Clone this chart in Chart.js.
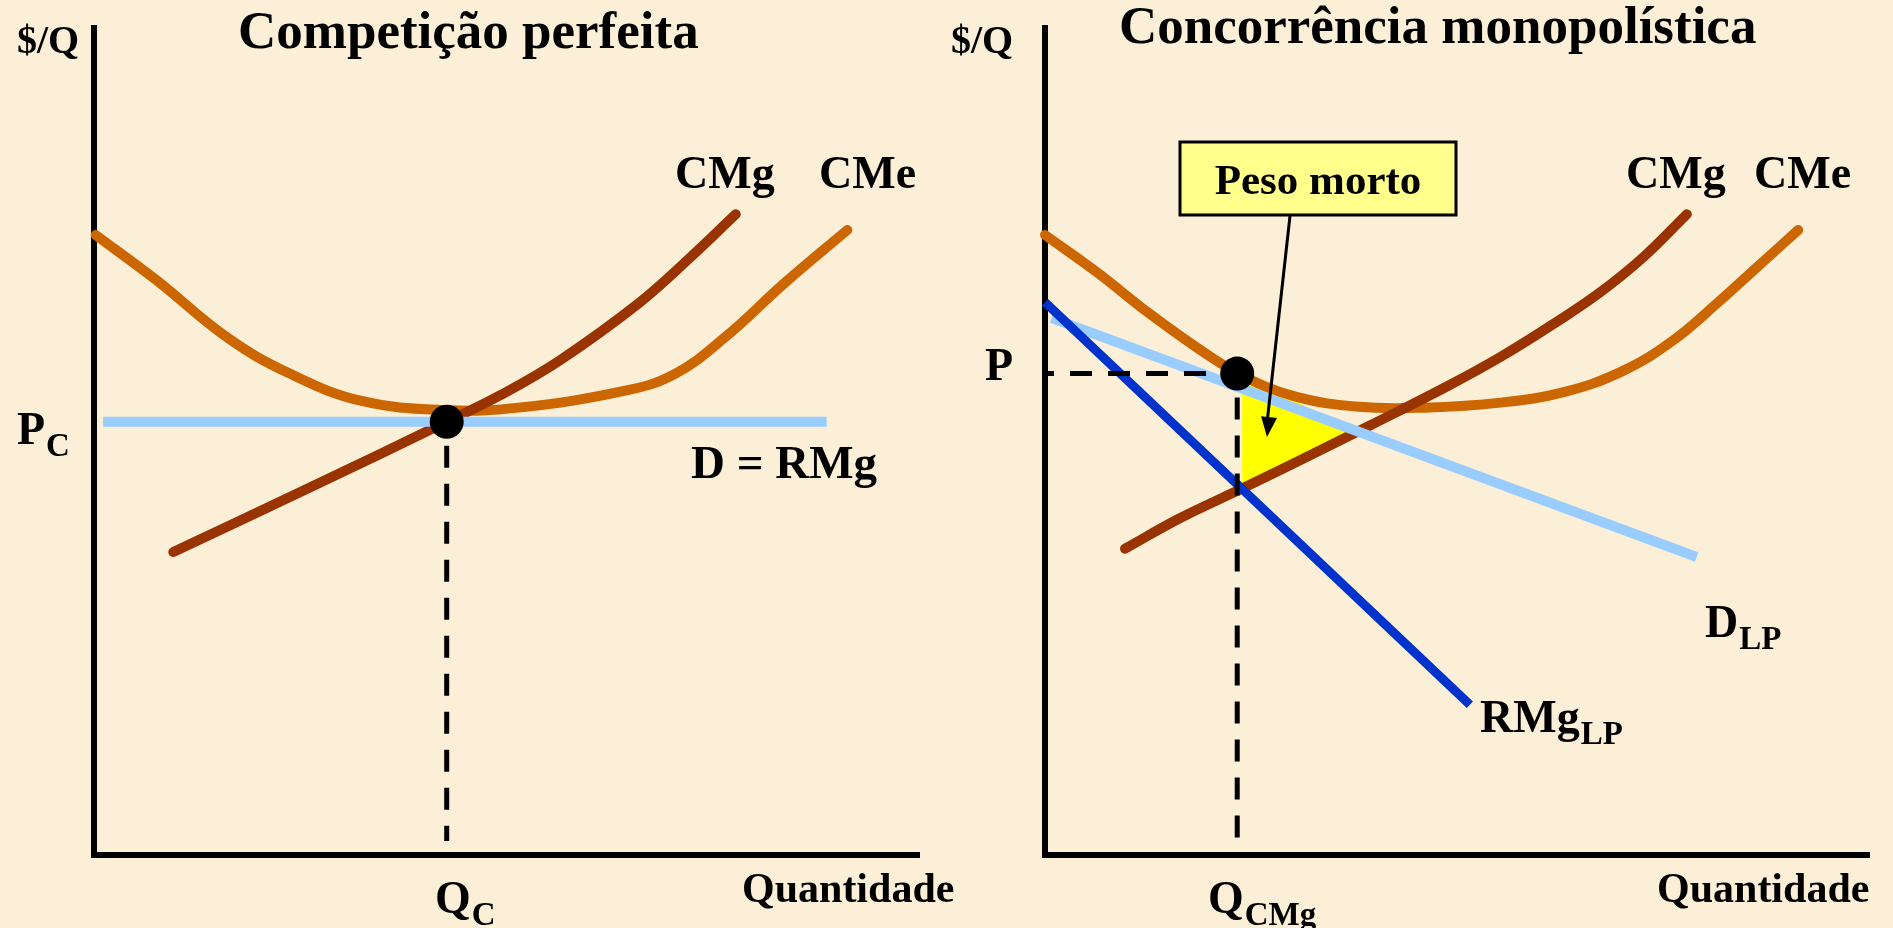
<!DOCTYPE html>
<html>
<head>
<meta charset="utf-8">
<script src="https://cdn.jsdelivr.net/npm/chart.js@4.4.0/dist/chart.umd.min.js"></script>
<style>
    html, body { margin: 0; padding: 0; }
    body {
        width: 1893px;
        height: 928px;
        position: relative;
        overflow: hidden;
        background-color: #fbefd8;
    }
    .panel { position: absolute; top: 0; height: 928px; }
    #leftWrap { left: 0; width: 1000px; }
    #rightWrap { left: 940px; width: 953px; }
</style>
</head>
<body>
<div class="panel" id="leftWrap"><canvas id="leftChart" width="1000" height="928"></canvas></div>
<div class="panel" id="rightWrap"><canvas id="rightChart" width="953" height="928"></canvas></div>
<script>
// Both panels: quantity on x (0-100), $/Q on y (0-100)

// Competição perfeita
const perfCMgX = [9.6, 26.2, 42.7, 49.2, 56.4, 66.1, 72.2, 77.7];
const perfCMgY = [36.5, 44.3, 52.2, 55.4, 59.6, 66.6, 72.0, 77.2];
const perfCMeX = [0.2, 7.5, 16.2, 23.7, 32.4, 42.7, 51.4, 64.6, 70.4, 76.3, 83.6, 91.2];
const perfCMeY = [74.7, 69.3, 62.3, 58.0, 54.7, 53.6, 53.9, 56.0, 58.0, 62.3, 68.9, 75.3];
const perfDemandX = [1.1, 88.7];
const perfPrice = 52.2;   // P_C
const perfQty = 42.7;     // Q_C

// Concorrência monopolística
const monoCMgX = [9.7, 16.4, 24.2, 32.2, 39.5, 49.0, 55.2, 61.2, 67.3, 72.5, 77.8];
const monoCMgY = [36.9, 40.6, 44.3, 48.2, 51.8, 56.6, 60.0, 63.7, 67.8, 72.0, 77.2];
const monoCMeX = [0, 6.3, 12.7, 19.2, 24.2, 30.5, 38.0, 46.0, 55.2, 63.0, 70.0, 76.0, 81.5, 86.5, 91.3];
const monoCMeY = [74.7, 70.2, 65.2, 60.6, 57.6, 55.2, 54.0, 53.9, 54.5, 55.8, 58.3, 61.9, 66.5, 71.0, 75.3];
const monoDemandX = [0.8, 79.0];
const monoDemandY = [64.7, 35.9];
const monoRMgX = [0, 51.5];
const monoRMgY = [66.6, 18.1];
const monoPrice = 58.0;   // P
const monoQty = 23.3;     // Q_CMg
const deadweightX = [23.9, 23.9, 37.2, 23.9];
const deadweightY = [58.2, 44.0, 51.0, 58.2];

const qtyFloor = 1.7;     // where the dashed guide stops

const FONT = '"Liberation Serif", "Times New Roman", serif';
const COLORS = {
    cmg: '#993300',
    cme: '#cc6600',
    demand: '#99ccff',
    rmg: '#0033cc',
    deadweight: '#ffff00',
    box: '#ffff8c'
};

function toPoints(xs, ys) {
    return xs.map((x, i) => ({ x: x, y: ys[i] }));
}

function curve(label, points, color, width, cap) {
    return {
        label: label,
        data: points,
        showLine: true,
        borderColor: color,
        borderWidth: width,
        borderCapStyle: cap || 'round',
        borderJoinStyle: 'round',
        pointRadius: 0,
        tension: 0.4,
        clip: false
    };
}

function dashed(label, points, phase) {
    return {
        label: label,
        data: points,
        showLine: true,
        borderColor: '#000',
        borderWidth: 5,
        borderDash: [22, 16],
        borderDashOffset: phase || 0,
        borderCapStyle: 'butt',
        pointRadius: 0,
        clip: false
    };
}

function dot(x, y) {
    return {
        label: 'equilibrio',
        data: [{ x: x, y: y }],
        pointRadius: 17,
        pointBackgroundColor: '#000',
        pointBorderWidth: 0,
        clip: false
    };
}

function drawLabel(ctx, item, offsetX) {
    ctx.font = `bold ${item.size || 46}px ${FONT}`;
    ctx.fillText(item.text, item.x - offsetX, item.y);
    if (item.sub) {
        const w = ctx.measureText(item.text).width;
        ctx.font = `bold 33px ${FONT}`;
        ctx.fillText(item.sub, item.x - offsetX + w + 1, item.y + 12);
    }
}

// Axes under the curves, labels and callouts above them
const decorPlugin = {
    id: 'decor',
    beforeDatasetsDraw(chart, args, opts) {
        const { ctx, chartArea } = chart;
        ctx.save();
        ctx.strokeStyle = '#000';
        ctx.lineWidth = 6;
        ctx.lineCap = 'butt';
        ctx.beginPath();
        ctx.moveTo(chartArea.left, chartArea.top);
        ctx.lineTo(chartArea.left, chartArea.bottom + 3);
        ctx.moveTo(chartArea.left - 3, chartArea.bottom);
        ctx.lineTo(chartArea.right, chartArea.bottom);
        ctx.stroke();
        ctx.restore();
    },
    afterDatasetsDraw(chart, args, opts) {
        const ctx = chart.ctx;
        const off = opts.offsetX;
        ctx.save();
        ctx.fillStyle = '#000';
        ctx.textAlign = 'left';
        ctx.textBaseline = 'alphabetic';
        opts.labels.forEach(item => drawLabel(ctx, item, off));

        if (opts.callout) {
            const c = opts.callout;
            // arrow from the box down into the triangle
            ctx.strokeStyle = '#000';
            ctx.lineWidth = 3;
            ctx.beginPath();
            ctx.moveTo(c.from[0] - off, c.from[1]);
            ctx.lineTo(c.to[0] - off, c.to[1] - 14);
            ctx.stroke();
            const ang = Math.atan2(c.to[1] - c.from[1], c.to[0] - c.from[0]);
            const tx = c.to[0] - off, ty = c.to[1];
            ctx.beginPath();
            ctx.moveTo(tx, ty);
            ctx.lineTo(tx - 20 * Math.cos(ang) + 8 * Math.sin(ang), ty - 20 * Math.sin(ang) - 8 * Math.cos(ang));
            ctx.lineTo(tx - 20 * Math.cos(ang) - 8 * Math.sin(ang), ty - 20 * Math.sin(ang) + 8 * Math.cos(ang));
            ctx.closePath();
            ctx.fill();

            // box
            ctx.fillStyle = COLORS.box;
            ctx.fillRect(c.box[0] - off, c.box[1], c.box[2], c.box[3]);
            ctx.strokeStyle = '#000';
            ctx.lineWidth = 3;
            ctx.strokeRect(c.box[0] - off, c.box[1], c.box[2], c.box[3]);
            ctx.fillStyle = '#000';
            ctx.textAlign = 'center';
            ctx.font = `bold 43px ${FONT}`;
            ctx.fillText(c.text, c.box[0] - off + c.box[2] / 2, c.box[1] + 52);
        }
        ctx.restore();
    }
};

function baseOptions(padding, decor) {
    return {
        responsive: false,
        animation: false,
        events: [],
        layout: { padding: padding },
        plugins: {
            legend: { display: false },
            tooltip: { enabled: false },
            title: { display: false },
            decor: decor
        },
        scales: {
            x: { type: 'linear', min: 0, max: 100, display: false },
            y: { type: 'linear', min: 0, max: 100, display: false }
        }
    };
}

function buildPerfect() {
    const ctx = document.getElementById('leftChart').getContext('2d');
    new Chart(ctx, {
        type: 'scatter',
        data: {
            datasets: [
                dot(perfQty, perfPrice),
                dashed('Q_C', [{ x: perfQty, y: perfPrice }, { x: perfQty, y: qtyFloor }], 14),
                curve('D = RMg', perfDemandX.map(x => ({ x: x, y: perfPrice })), COLORS.demand, 10, 'butt'),
                curve('CMg', toPoints(perfCMgX, perfCMgY), COLORS.cmg, 10),
                curve('CMe', toPoints(perfCMeX, perfCMeY), COLORS.cme, 10)
            ]
        },
        options: baseOptions({ left: 94, right: 80, top: 25, bottom: 73 }, {
            offsetX: 0,
            labels: [
                { text: '$/Q', x: 17, y: 53, size: 40 },
                { text: 'Competição perfeita', x: 238, y: 48, size: 53 },
                { text: 'CMg', x: 675, y: 188 },
                { text: 'CMe', x: 819, y: 188 },
                { text: 'D = RMg', x: 691, y: 478, size: 47 },
                { text: 'P', sub: 'C', x: 17, y: 444 },
                { text: 'Q', sub: 'C', x: 435, y: 913 },
                { text: 'Quantidade', x: 742, y: 902, size: 42 }
            ]
        }),
        plugins: [decorPlugin]
    });
}

function buildMonopolistic() {
    const ctx = document.getElementById('rightChart').getContext('2d');
    const deadweight = {
        label: 'Peso morto',
        data: toPoints(deadweightX, deadweightY),
        showLine: true,
        borderWidth: 0,
        borderColor: COLORS.deadweight,
        backgroundColor: COLORS.deadweight,
        fill: 'shape',
        pointRadius: 0,
        tension: 0,
        clip: false
    };
    new Chart(ctx, {
        type: 'scatter',
        data: {
            datasets: [
                dot(monoQty, monoPrice),
                dashed('Q_CMg', [{ x: monoQty, y: monoPrice }, { x: monoQty, y: qtyFloor }], 14),
                dashed('P', [{ x: 0, y: monoPrice }, { x: monoQty, y: monoPrice }], 13),
                curve('RMg_LP', toPoints(monoRMgX, monoRMgY), COLORS.rmg, 9, 'butt'),
                curve('D_LP', toPoints(monoDemandX, monoDemandY), COLORS.demand, 10, 'butt'),
                curve('CMg', toPoints(monoCMgX, monoCMgY), COLORS.cmg, 10),
                curve('CMe', toPoints(monoCMeX, monoCMeY), COLORS.cme, 10),
                deadweight
            ]
        },
        options: baseOptions({ left: 105, right: 23, top: 25, bottom: 73 }, {
            offsetX: 940,
            labels: [
                { text: '$/Q', x: 951, y: 53, size: 40 },
                { text: 'Concorrência monopolística', x: 1119, y: 43, size: 53 },
                { text: 'CMg', x: 1626, y: 188 },
                { text: 'CMe', x: 1754, y: 188 },
                { text: 'P', x: 985, y: 380 },
                { text: 'D', sub: 'LP', x: 1705, y: 637 },
                { text: 'RMg', sub: 'LP', x: 1480, y: 732 },
                { text: 'Q', sub: 'CMg', x: 1208, y: 913 },
                { text: 'Quantidade', x: 1657, y: 902, size: 42 }
            ],
            callout: {
                text: 'Peso morto',
                box: [1180, 142, 276, 73],
                from: [1290, 216],
                to: [1267, 437]
            }
        }),
        plugins: [decorPlugin]
    });
}

document.addEventListener('DOMContentLoaded', () => {
    buildPerfect();
    buildMonopolistic();
});
</script>
</body>
</html>
